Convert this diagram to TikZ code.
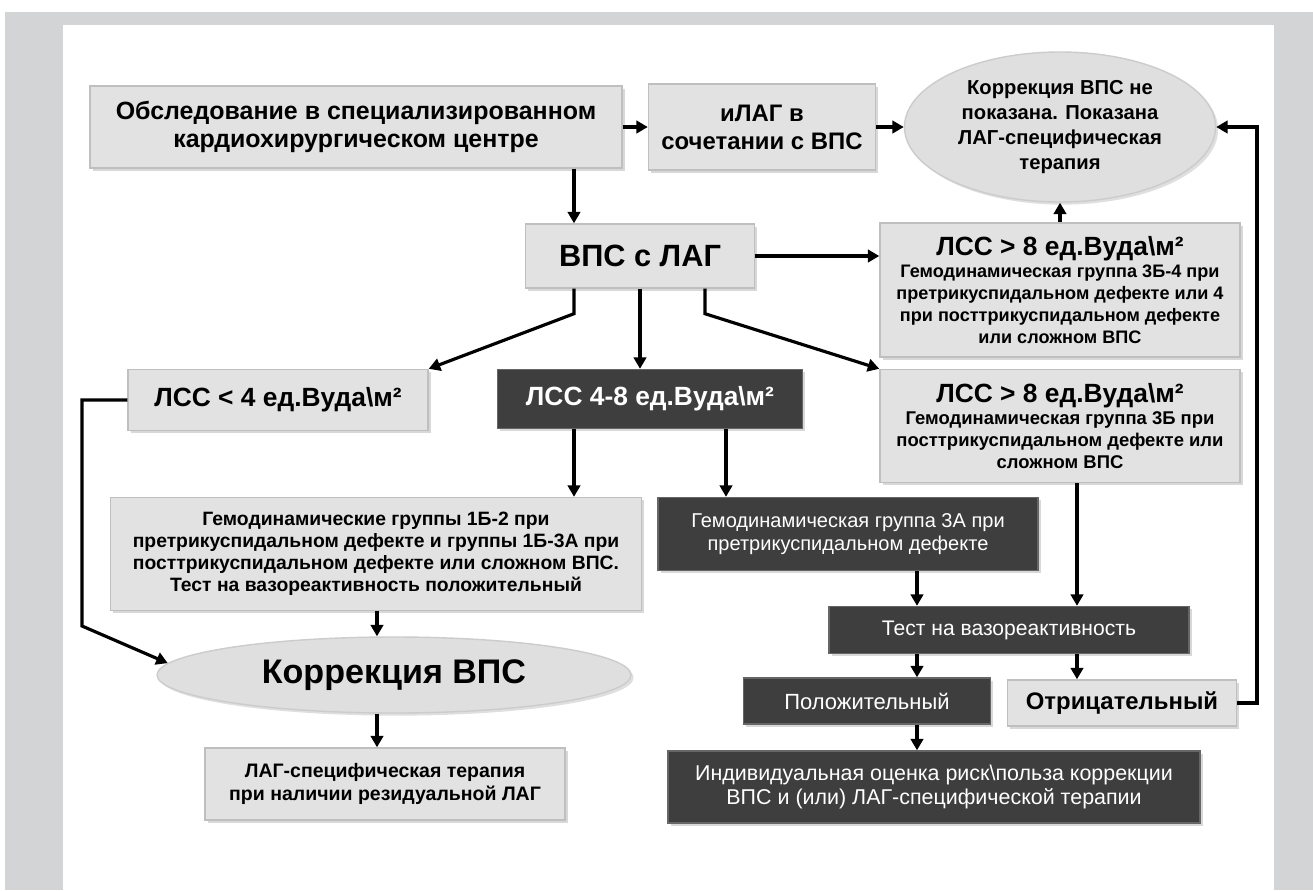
\documentclass[tikz,border=0pt]{standalone}
\usepackage{fontspec}
\setmainfont{Liberation Sans}
\usetikzlibrary{arrows.meta,shadows,shapes.geometric}
\definecolor{frameGray}{RGB}{211,212,214}
\definecolor{boxLight}{RGB}{226,226,226}
\definecolor{boxDark}{RGB}{62,62,62}
\newcommand\fsz[2]{\fontsize{#1}{#2}\selectfont}

\begin{document}
\begin{tikzpicture}[x=0.02cm, y=-0.02cm,
  wh/.style 2 args={minimum width=#1*0.02cm, minimum height=#2*0.02cm},
  lbox/.style={draw=gray!50, line width=0.8pt, fill=boxLight, align=center, inner sep=1pt,
    drop shadow={opacity=0.3, shadow xshift=1.5pt, shadow yshift=-1.5pt}},
  dbox/.style={lbox, draw=black!60, fill=boxDark, text=white},
  lell/.style={ellipse, draw=gray!40, line width=0.8pt, fill=gray!25, align=center, inner sep=0pt,
    drop shadow={opacity=0.25, shadow xshift=1.5pt, shadow yshift=-1.5pt}},
  arr/.style={-{Triangle[length=2.3mm, width=2.5mm]}, line width=1.8pt}]
\useasboundingbox (0,0) rectangle (1313,890);
% frame
\fill[white] (0,0) rectangle (1313,890);
\fill[frameGray] (5,12) rectangle (1313,890);
\fill[white] (63,25) rectangle (1274,890);
% column guides
\coordinate (xa) at (574,0);
\coordinate (xc) at (705,0);
\coordinate (xd) at (726,0);
\coordinate (xe) at (917,0);
\coordinate (xf) at (1077,0);
\coordinate (xg) at (1257,0);
\coordinate (xh) at (82,0);
\coordinate (xi) at (377,0);
% top row
\node[lbox, wh={532}{82}, font=\fsz{14.2}{16}\bfseries] (obsl) at (356,127) {Обследование в специализированном\\кардиохирургическом центре};
\node[lbox, wh={227}{86}, font=\fsz{13.6}{16}\bfseries] (ilag) at (762,127) {иЛАГ в\\сочетании с ВПС};
\node[lell, wh={311}{150}, font=\fsz{11.5}{14.4}\bfseries] (elltop) at (1060,127) {Коррекция ВПС не\\показана. Показана\\ЛАГ-специфическая\\терапия};
% second row
\node[lbox, wh={229}{64}, font=\fsz{17.5}{19}\bfseries] (vps) at (640,256) {ВПС с ЛАГ};
\node[lbox, wh={360}{134}, font=\fsz{10.3}{12.5}\bfseries] (lssA) at (1060,290)
  {{\fsz{15}{18}ЛСС > 8 ед.Вуда\textbackslash м²}\\Гемодинамическая группа 3Б-4 при\\претрикуспидальном дефекте или 4\\при посттрикуспидальном дефекте\\или сложном ВПС};
% third row
\node[lbox, wh={300}{61}, font=\fsz{15}{17}\bfseries] (lssLow) at (278,400) {ЛСС < 4 ед.Вуда\textbackslash м²};
\node[dbox, wh={305}{59}, font=\fsz{15}{17}\bfseries] (lssMid) at (650,399) {ЛСС 4-8 ед.Вуда\textbackslash м²};
\node[lbox, wh={360}{113}, font=\fsz{10.5}{12.5}\bfseries] (lssB) at (1060,426)
  {{\fsz{15}{18}ЛСС > 8 ед.Вуда\textbackslash м²}\\Гемодинамическая группа 3Б при\\посттрикуспидальном дефекте или\\сложном ВПС};
% fourth row
\node[lbox, wh={531}{113}, font=\fsz{11}{12.6}\bfseries] (grp) at (376,554)
  {Гемодинамические группы 1Б-2 при\\претрикуспидальном дефекте и группы 1Б-3А при\\посттрикуспидальном дефекте или сложном ВПС.\\Тест на вазореактивность положительный};
\node[dbox, wh={380}{73}, font=\fsz{11.4}{13.2}] (grp3a) at (848,534) {Гемодинамическая группа 3А при\\претрикуспидальном дефекте};
\node[dbox, wh={360}{47}, font=\fsz{12}{14}] (test) at (1009,630) {Тест на вазореактивность};
% bottom rows
\node[lell, wh={474}{76}, font=\fsz{19.4}{22}\bfseries] (korr) at (394,675) {Коррекция ВПС};
\node[dbox, wh={247}{46}, font=\fsz{12.5}{14}] (pos) at (867,701) {Положительный};
\node[lbox, wh={229}{46}, font=\fsz{13.6}{15}\bfseries] (neg) at (1122,703) {Отрицательный};
\node[lbox, wh={360}{72}, font=\fsz{11.1}{13}\bfseries] (lagth) at (385,784) {ЛАГ-специфическая терапия\\при наличии резидуальной ЛАГ};
\node[dbox, wh={532}{72}, font=\fsz{12.2}{13.5}] (indiv) at (934,787) {Индивидуальная оценка риск\textbackslash польза коррекции\\ВПС и (или) ЛАГ-специфической терапии};
% connectors
\draw[arr] (obsl.east) -- (ilag.west);
\draw[arr] (ilag.east) -- (elltop.west);
\draw[arr] (obsl.south -| xa) -- (vps.north -| xa);
\draw[arr] (vps.east) -- (vps.east -| lssA.west);
\draw[arr] (lssA.north) -- (elltop.south);
\draw[arr] (vps.south -| xa) -- ++(0,25) -- (lssLow.north east);
\draw[arr] (vps.south) -- (vps.south |- lssMid.north);
\draw[arr] (vps.south -| xc) -- ++(0,25) -- (lssB.north west);
\draw[arr] (lssLow.west) -- (xh |- lssLow.west) -- ++(0,226) -- (korr.177);
\draw[arr] (lssMid.south -| xa) -- (grp.north -| xa);
\draw[arr] (lssMid.south -| xd) -- (grp3a.north -| xd);
\draw[arr] (lssB.south -| xf) -- (test.north -| xf);
\draw[arr] (grp3a.south -| xe) -- (test.north -| xe);
\draw[arr] (test.south -| xe) -- (pos.north -| xe);
\draw[arr] (test.south -| xf) -- (neg.north -| xf);
\draw[arr] (pos.south -| xe) -- (indiv.north -| xe);
\draw[arr] (grp.south -| xi) -- (korr.north -| xi);
\draw[arr] (korr.south -| xi) -- (lagth.north -| xi);
\draw[arr] (neg.east) -- (xg |- neg.east) -- (xg |- elltop.east) -- (elltop.east);
\end{tikzpicture}
\end{document}
